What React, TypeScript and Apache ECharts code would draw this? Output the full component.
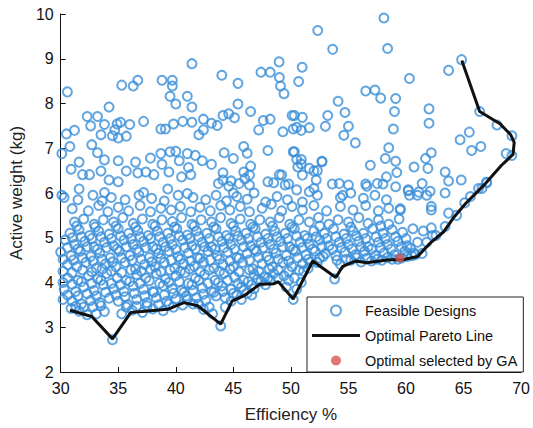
import React, { useEffect, useRef } from "react";
import * as echarts from "echarts";

const xTicks = [30, 35, 40, 45, 50, 55, 60, 65, 70];
const yTicks = [2, 3, 4, 5, 6, 7, 8, 9, 10];

// Feasible designs
const feasibleLow: number[][] = [
  [30.9,3.42],[31.6,3.36],[32.3,3.28],[33.1,3.3],[33.8,3.35],[34.5,2.72],[35.3,3.3],[36.2,3.38],[37.1,3.33],[38.0,3.41],[38.9,3.37],[39.8,3.45],[40.6,3.5],[41.5,3.52],[42.4,3.4],[43.2,3.3],[43.9,3.03],[44.8,3.58],
  [31.3,3.47],[32.0,3.45],[32.8,3.46],[33.5,3.48],[35.7,3.45],[36.6,3.47],[37.5,3.48],[38.5,3.5],[39.4,3.52],[41.0,3.62],[42.0,3.52],[42.9,3.45],[44.3,3.45],[45.7,3.62],[46.6,3.72],
  [30.2,3.62],[31.0,3.58],[31.8,3.52],[32.6,3.6],[33.4,3.55],[34.2,3.65],[35.0,3.58],[35.8,3.5],[36.6,3.62],[37.5,3.55],[38.3,3.66],[39.2,3.58],[40.0,3.63],[40.9,3.7],[41.8,3.66],[42.6,3.6],[43.5,3.7],[44.3,3.66],[45.3,3.72],[46.2,3.76],
  [30.6,3.72],[31.5,3.7],[32.3,3.75],[33.1,3.7],[33.9,3.78],[34.8,3.72],[35.6,3.68],[36.4,3.76],[37.3,3.7],[38.1,3.78],[39.0,3.72],[39.8,3.76],[40.7,3.78],[41.5,3.82],[42.4,3.74],[43.3,3.78],[44.1,3.8],[45.0,3.76],[45.9,3.82],[46.8,3.86],[47.8,3.95],
  [30.3,3.85],[31.3,3.8],[32.0,3.9],[32.9,3.82],[33.7,3.95],[34.6,3.86],[35.5,3.8],[36.3,3.92],[37.2,3.85],[38.0,3.8],[38.9,3.93],[39.7,3.86],[40.5,3.82],[41.4,3.95],[42.3,3.88],[43.1,3.8],[44.0,3.92],[44.8,3.85],[45.7,3.9],[46.6,3.95],[47.4,4.02],[48.2,4.05],
  [30.2,4.0],[31.0,3.96],[31.8,4.02],[32.7,3.98],[33.5,4.05],[34.4,3.98],[35.2,3.95],[36.0,4.02],[36.9,3.98],[37.7,4.04],[38.6,3.98],[39.4,4.0],[40.3,4.02],[41.1,3.98],[42.0,4.05],[42.8,3.98],[43.7,4.0],[44.5,4.05],[45.4,3.98],[46.3,4.02],[47.1,4.08],[48.0,4.1],[48.9,4.1],[49.8,4.05],
  [30.6,4.1],[31.5,4.05],[32.4,4.15],[33.2,4.08],[34.0,4.2],[34.9,4.1],[35.7,4.05],[36.6,4.18],[37.4,4.1],[38.3,4.2],[39.1,4.08],[40.0,4.15],[40.8,4.22],[41.7,4.1],[42.5,4.18],[43.4,4.05],[44.2,4.2],[45.1,4.12],[45.9,4.05],[46.8,4.18],[47.7,4.12],[48.5,4.2],[49.4,4.15],[50.3,4.1],[51.1,4.25],
  [49.6,3.9],[50.2,3.62],[50.9,4.0],[51.7,4.45],[50.5,3.85],
  [30.2,4.25],[31.0,4.22],[31.9,4.28],[32.7,4.24],[33.6,4.3],[34.4,4.25],[35.3,4.22],[36.1,4.28],[37.0,4.25],[37.8,4.3],[38.7,4.24],[39.5,4.28],[40.4,4.25],[41.2,4.3],[42.1,4.24],[42.9,4.28],[43.8,4.25],[44.7,4.3],[45.5,4.24],[46.4,4.28],[47.2,4.25],[48.1,4.3],[48.9,4.28],[49.8,4.25],[50.7,4.28],[51.5,4.32],[52.3,4.45],
];

const feasibleMid: number[][] = [
  [30.6,4.4],[31.4,4.35],[32.2,4.45],[33.1,4.32],[33.9,4.42],[34.8,4.35],[35.6,4.45],[36.5,4.3],[37.3,4.4],[38.2,4.35],[39.0,4.45],[39.9,4.32],[40.7,4.42],[41.6,4.36],[42.4,4.46],[43.3,4.32],[44.1,4.4],[45.0,4.35],[45.8,4.45],[46.7,4.3],[47.5,4.42],[48.4,4.35],[49.3,4.45],[50.1,4.35],[51.0,4.42],[52.5,4.55],[53.8,4.08],[54.3,4.4],[55.2,4.5],[56.1,4.46],[57.0,4.48],[57.9,4.5],[58.8,4.52],[59.6,4.55],[60.5,4.6],
  [30.2,4.52],[31.1,4.5],[31.9,4.55],[32.8,4.48],[33.6,4.52],[34.5,4.46],[35.3,4.55],[36.2,4.5],[37.0,4.52],[37.9,4.46],[38.7,4.54],[39.6,4.5],[40.4,4.52],[41.3,4.48],[42.1,4.54],[43.0,4.5],[43.8,4.52],[44.7,4.48],[45.5,4.54],[46.4,4.5],[47.2,4.56],[48.1,4.5],[48.9,4.52],[49.8,4.48],[50.6,4.55],[51.5,4.52],[52.8,4.58],[54.0,4.5],[54.8,4.52],[55.7,4.55],[56.6,4.54],[57.5,4.52],[58.4,4.56],[60.1,4.58],
  [30.0,4.68],[30.9,4.6],[31.7,4.7],[32.6,4.58],[33.4,4.66],[34.3,4.55],[35.1,4.7],[36.0,4.6],[36.8,4.68],[37.7,4.56],[38.5,4.65],[39.4,4.7],[40.2,4.58],[41.1,4.66],[41.9,4.55],[42.8,4.7],[43.6,4.6],[44.5,4.68],[45.3,4.56],[46.2,4.65],[47.0,4.7],[47.9,4.58],[48.7,4.66],[49.6,4.6],[50.4,4.7],[51.3,4.62],[52.1,4.7],[53.0,4.65],[53.9,4.6],[54.7,4.68],[55.6,4.62],[56.4,4.7],[57.3,4.6],[58.1,4.66],[59.0,4.62],[59.9,4.7],[60.7,4.66],
  [30.6,4.78],[31.5,4.75],[32.3,4.8],[33.2,4.74],[34.0,4.78],[34.9,4.75],[35.7,4.8],[36.6,4.74],[37.4,4.78],[38.3,4.75],[39.1,4.8],[40.0,4.74],[40.8,4.78],[41.7,4.75],[42.5,4.8],[43.4,4.74],[44.2,4.78],[45.1,4.75],[45.9,4.8],[46.8,4.74],[47.6,4.78],[48.5,4.75],[49.3,4.8],[50.2,4.74],[51.0,4.78],[51.9,4.75],[52.7,4.8],[53.6,4.74],[54.4,4.78],[55.3,4.75],[56.1,4.8],[57.0,4.74],[57.8,4.78],[58.7,4.75],[59.6,4.8],[60.4,4.76],
  [30.4,4.95],[31.2,4.85],[32.1,4.92],[32.9,4.8],[33.8,4.9],[34.6,4.82],[35.5,4.95],[36.3,4.85],[37.2,4.92],[38.0,4.8],[38.9,4.9],[39.7,4.85],[40.6,4.95],[41.4,4.82],[42.3,4.9],[43.1,4.8],[44.0,4.92],[44.8,4.85],[45.7,4.95],[46.5,4.82],[47.4,4.9],[48.2,4.85],[49.1,4.92],[49.9,4.8],[50.8,4.9],[51.6,4.85],[52.5,4.95],[53.3,4.82],[54.2,4.9],[55.0,4.85],[55.9,4.92],[56.7,4.8],[57.6,4.9],[58.4,4.85],[59.3,4.92],[60.1,4.82],[61.0,4.9],
  [31.0,5.0],[31.8,5.02],[32.7,4.98],[33.5,5.02],[34.4,4.98],[35.2,5.04],[36.1,4.98],[36.9,5.02],[37.8,4.98],[38.6,5.02],[39.5,4.98],[40.3,5.04],[41.2,4.98],[42.0,5.02],[42.9,4.98],[43.7,5.02],[44.6,4.98],[45.4,5.04],[46.3,4.98],[47.1,5.02],[48.0,4.98],[48.8,5.02],[49.7,4.98],[50.5,5.04],[51.4,4.98],[52.2,5.02],[53.1,4.98],[53.9,5.02],[54.8,4.98],[55.7,5.04],[56.5,4.98],[57.4,5.02],[58.2,4.98],[59.1,5.02],[60.0,4.98],
  [30.8,5.1],[31.6,5.18],[32.5,5.05],[33.3,5.15],[34.2,5.08],[35.0,5.2],[35.9,5.1],[36.7,5.16],[37.6,5.05],[38.4,5.15],[39.3,5.1],[40.1,5.2],[41.0,5.06],[41.8,5.15],[42.7,5.1],[43.5,5.2],[44.4,5.05],[45.2,5.15],[46.1,5.1],[46.9,5.2],[47.8,5.08],[48.6,5.15],[49.5,5.1],[50.3,5.2],[51.2,5.05],[52.0,5.15],[52.9,5.1],[53.7,5.2],[54.6,5.08],[55.4,5.15],[56.3,5.1],[57.1,5.2],[58.0,5.1],[58.8,5.18],[59.7,5.12],[60.6,5.2],[61.5,5.15],[62.3,5.05],
];

const feasibleHigh: number[][] = [
  [31.4,5.26],[33.0,5.24],[34.8,5.26],[36.5,5.24],[38.2,5.26],[39.9,5.24],[41.6,5.26],[43.3,5.24],[45.0,5.26],[46.7,5.24],[48.4,5.26],[50.1,5.24],[52.5,5.26],[55.2,5.24],[57.8,5.26],
  [31.2,5.35],[32.0,5.42],[32.9,5.3],[33.7,5.4],[34.6,5.35],[35.4,5.45],[36.3,5.32],[37.1,5.42],[38.0,5.3],[38.8,5.4],[39.7,5.36],[40.5,5.45],[41.4,5.3],[42.2,5.4],[43.1,5.35],[43.9,5.45],[44.8,5.32],[45.6,5.42],[46.5,5.3],[47.3,5.4],[48.2,5.35],[49.0,5.45],[49.9,5.3],[50.7,5.4],[51.6,5.35],[52.4,5.45],[53.3,5.3],[54.1,5.4],[55.0,5.35],[55.9,5.45],[56.7,5.32],[57.6,5.4],[58.5,5.3],[59.4,5.42],
  [31.0,5.65],[32.4,5.6],[33.3,5.72],[34.1,5.58],[35.0,5.68],[35.9,5.6],[36.9,5.72],[37.8,5.58],[38.7,5.66],[39.6,5.62],[40.4,5.7],[41.3,5.58],[42.1,5.68],[43.0,5.6],[43.9,5.72],[44.7,5.62],[45.6,5.7],[46.4,5.58],[47.5,5.66],[48.3,5.75],[49.2,5.6],[50.1,5.7],[51.0,5.62],[52.0,5.72],[53.1,5.6],[54.3,5.7],[55.4,5.62],[56.5,5.72],[57.6,5.6],[58.5,5.66],[59.5,5.62],
  [30.3,5.9],[31.5,5.85],[32.8,5.95],[33.6,5.82],[34.4,5.9],[35.6,5.85],[36.8,5.95],[37.9,5.88],[39.0,5.82],[40.2,5.95],[41.5,5.9],[42.6,5.85],[43.5,5.95],[44.4,5.82],[45.3,5.92],[46.2,5.86],[47.8,5.8],[48.8,5.92],[49.7,5.85],[51.0,5.8],[52.3,5.95],[54.3,5.9],[55.2,6.0],[56.3,5.88],[57.3,5.95],[58.3,5.85],[60.3,5.95],[61.1,6.02],[61.8,5.95],
  [62.2,5.62],[63.7,5.55],[63.4,5.25],[62.6,5.05],[65.1,5.78],[64.4,5.5],[66.6,6.1],[67.0,6.24],[65.6,5.92],[61.8,4.9],[62.2,5.22],[61.4,4.65],[60.8,4.62],[59.3,4.52],
];

const feasibleUpper: number[][] = [
  [31.6,6.09],[33.8,6.01],[37.2,6.01],[39.3,6.09],[41.0,5.99],[43.7,6.21],[44.1,6.29],[30.1,5.95],
  [31.6,6.69],[30.9,6.53],[31.9,6.41],[32.5,6.41],[33.5,6.49],[33.8,6.74],[34.2,6.29],[35.0,6.25],[35.0,6.72],[35.7,6.49],[36.5,6.69],[36.7,6.45],[37.4,6.47],[37.8,6.78],[38.1,6.41],[38.7,6.88],[38.8,6.64],[39.4,6.47],[39.5,6.92],[40.0,6.93],[40.3,6.72],[40.5,6.36],[41.0,6.88],[41.1,6.57],[41.3,6.41],[41.7,6.84],[42.3,6.72],[43.1,6.64],[44.1,6.45],[44.8,6.27],[45.9,6.47],[46.0,6.32],[46.4,6.18],[45.5,6.21],[48.5,6.23],[49.0,6.41],[49.5,6.18],
  [32.3,7.71],[33.2,7.71],[32.6,7.5],[33.8,7.53],[34.7,7.41],[34.9,7.54],[35.2,7.58],[36.0,7.53],[37.2,7.6],[34.5,7.28],[35.0,7.23],[35.7,7.27],[33.5,7.3],[30.5,7.32],[31.2,7.4],[30.8,7.04],[30.1,6.88],[32.7,7.08],[33.2,6.9],
  [38.7,7.43],[39.1,7.43],[39.8,7.54],[40.6,7.6],[41.4,7.58],[42.0,7.3],[42.4,7.41],[42.4,7.65],[43.1,7.56],[43.6,7.51],[44.1,7.73],[44.6,7.77],[45.1,7.68],[47.2,7.41],[47.6,7.62],[48.2,7.65],[49.3,7.37],[48.0,6.95],[45.9,7.04],[46.2,6.89],[44.2,6.9],[45.0,6.77],[50.1,7.73],[50.2,7.43],[50.3,6.92],
  [30.58,8.26],[41.4,8.89],[35.3,8.41],[36.7,8.52],[36.3,8.39],[38.8,8.52],[39.7,8.52],[39.7,8.39],[39.5,8.16],[40.0,7.99],[41.0,8.16],[41.4,7.92],[34.2,7.92],[44.0,8.63],[45.4,8.45],[45.4,7.99],[47.4,8.7],[48.2,8.7],[48.97,8.93],[49.0,8.58],[49.1,8.39],[49.4,8.22],[46.5,7.82],
  [44.6,6.15],[45.0,6.0],[46.8,6.0],[46.5,6.6],[46.4,6.4],[48.0,6.25],[49.2,6.4],[49.8,6.2],[50.5,6.75],[50.9,6.65],[51.0,6.4],[52.3,6.5],[52.0,6.1],[52.7,6.7],[51.6,6.55],
  [58.08,9.91],[52.33,9.63],[53.63,9.21],[58.4,9.23],[50.98,8.81],[50.67,8.49],[63.7,8.74],[60.3,8.56],[56.5,8.28],[57.3,8.3],[57.8,8.12],[59.1,8.11],[59.0,7.82],[54.1,8.05],[54.7,7.8],[53.2,7.73],[53.0,7.49],[55.0,7.49],[54.6,7.29],[55.6,7.12],
  [50.3,7.73],[51.0,7.69],[50.5,7.47],[50.9,7.4],[51.6,7.46],[58.9,7.43],[62.0,7.88],[62.0,7.56],[66.4,7.82],[67.9,7.52],[69.2,7.28],[65.5,7.36],[64.7,7.19],[65.7,6.95],[66.5,7.04],[68.7,6.88],[69.2,6.84],[64.83,8.98],
  [58.5,7.01],[58.2,6.77],[59.1,6.71],[50.2,6.92],[50.9,6.75],[50.6,6.58],[52.7,6.71],[52.0,6.49],[56.9,6.62],[60.7,6.58],[61.7,6.77],[62.2,6.9],[61.9,6.55],[59.2,6.46],[58.3,6.36],[63.4,6.47],[63.7,6.27],[64.8,6.29],
  [52.2,6.29],[54.2,6.21],[55.0,6.18],[56.5,6.2],[57.5,6.21],[59.1,6.14],[60.2,6.07],[61.4,6.21],[62.1,6.04],[66.3,6.1],[67.0,6.23],[50.5,6.07],[51.6,6.03],
  [53.6,6.2],[54.5,5.95],[56.6,6.15],[58.0,6.2],[59.5,5.65],[60.2,6.05],[61.0,5.95],[63.4,6.0],[62.2,5.7],
];

const paretoLine: number[][] = [
  [30.8,3.38],[32.7,3.24],[34.5,2.74],[36.1,3.33],[37.8,3.37],[39.3,3.4],[40.7,3.55],[41.9,3.48],[43.9,3.07],[44.9,3.59],[45.9,3.7],[47.3,3.96],[48.5,3.97],[48.9,4.02],[50.2,3.63],[51.9,4.48],[53.9,4.11],[54.5,4.36],[55.6,4.48],[56.6,4.44],[57.7,4.48],[58.5,4.51],[59.7,4.51],[61.0,4.58],[62.1,4.88],[63.3,5.14],[64.2,5.47],[65.2,5.77],[66.9,6.21],[68.3,6.62],[69.3,6.86],[69.4,7.13],[69.1,7.3],[68.2,7.54],[66.4,7.82],[64.85,8.96],
];

const gaSelected: number[][] = [[59.46, 4.55]];

const FONT = "'Liberation Sans', Arial, Helvetica, sans-serif";

export default function App() {
  const ref = useRef<HTMLDivElement>(null);
  useEffect(() => {
    document.body.style.margin = "0";
    if (!ref.current) return;
    const chart = echarts.init(ref.current, undefined, { renderer: "svg" });
    const feasible = [...feasibleLow, ...feasibleMid, ...feasibleHigh, ...feasibleUpper];
    chart.setOption({
      animation: false,
      textStyle: { fontFamily: FONT },
      grid: { left: 59, right: 9, top: 14, bottom: 53 },
      xAxis: {
        type: "value",
        min: xTicks[0],
        max: xTicks[xTicks.length - 1],
        interval: 5,
        name: "Efficiency %",
        nameLocation: "middle",
        nameGap: 34,
        nameTextStyle: { fontSize: 17, color: "#222", fontFamily: FONT },
        axisLine: { lineStyle: { color: "#111", width: 1 } },
        axisTick: { inside: true, length: 5, lineStyle: { color: "#111" } },
        axisLabel: { fontSize: 16, color: "#111", margin: 8, fontFamily: FONT },
        splitLine: { show: false },
      },
      yAxis: {
        type: "value",
        min: yTicks[0],
        max: yTicks[yTicks.length - 1],
        interval: 1,
        name: "Active weight (kg)",
        nameLocation: "middle",
        nameGap: 32,
        nameTextStyle: { fontSize: 17, color: "#222", fontFamily: FONT },
        axisLine: { show: true, lineStyle: { color: "#111", width: 1 } },
        axisTick: { show: true, inside: true, length: 5, lineStyle: { color: "#111" } },
        axisLabel: { fontSize: 16, color: "#111", margin: 7, fontFamily: FONT },
        splitLine: { show: false },
      },
      legend: {
        orient: "vertical",
        left: 307,
        top: 297,
        padding: [6, 6, 4, 5],
        itemWidth: 48,
        itemHeight: 10,
        itemGap: 10,
        backgroundColor: "#fff",
        borderColor: "#222",
        borderWidth: 1,
        textStyle: { fontSize: 14.5, color: "#111", fontFamily: FONT },
        data: [
          { name: "Feasible Designs" },
          { name: "Optimal Pareto Line", icon: "path://M0,0 L48,0 L48,3 L0,3 Z", itemStyle: { color: "#111" } },
          { name: "Optimal selected by GA" },
        ],
      },
      series: [
        {
          name: "Feasible Designs",
          type: "scatter",
          data: feasible,
          symbol: "circle",
          symbolSize: 9,
          itemStyle: { color: "rgba(255,255,255,0)", borderColor: "#3a8fd9", borderWidth: 2 },
          z: 2,
        },
        {
          name: "Optimal Pareto Line",
          type: "line",
          data: paretoLine,
          showSymbol: false,
          symbol: "none",
          lineStyle: { color: "#111", width: 3 },
          itemStyle: { color: "#111" },
          z: 3,
        },
        {
          name: "Optimal selected by GA",
          type: "scatter",
          data: gaSelected,
          symbol: "circle",
          symbolSize: 9,
          itemStyle: { color: "#d9534f" },
          z: 4,
        },
      ],
    });
    return () => chart.dispose();
  }, []);
  return <div ref={ref} style={{ width: 533, height: 428 }} />;
}
